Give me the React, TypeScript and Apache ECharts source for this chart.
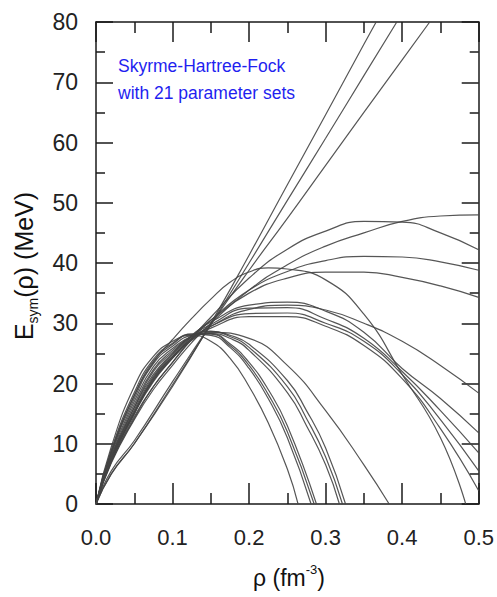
import React, { useEffect, useRef } from 'react';
import * as echarts from 'echarts';

// ---- axis settings ----
const xMin = 0;
const xMax = 0.5;
const xStep = 0.1;
const yMin = 0;
const yMax = 80;
const yStep = 10;

// ---- curves: [rho (fm^-3), Esym (MeV)] ----
// three nearly straight, steep curves
const curveA1 = [[0, 0], [0.02, 5], [0.05, 10], [0.1, 19.5], [0.15, 30], [0.2, 41.3], [0.25, 53], [0.3, 64.6], [0.35, 76.3], [0.366, 80]];
const curveA2 = [[0, 0], [0.02, 5], [0.05, 10], [0.1, 19.8], [0.15, 29.8], [0.2, 40], [0.25, 50.4], [0.3, 60.7], [0.35, 71.1], [0.393, 80]];
const curveA3 = [[0, 0], [0.02, 5.5], [0.05, 10.5], [0.1, 20.3], [0.15, 29.8], [0.2, 38.8], [0.25, 47.4], [0.3, 56.2], [0.35, 65], [0.4, 73.7], [0.436, 80]];
// high curves that stay above 30 MeV at 0.5
const curveB1 = [[0, 0], [0.02, 6.8], [0.05, 14], [0.075, 19], [0.1, 23], [0.125, 26.8], [0.15, 30], [0.2, 35.5], [0.25, 39.7], [0.3, 42.8], [0.35, 45], [0.4, 46.9], [0.45, 47.8], [0.5, 48]];
const curveB2 = [[0, 0], [0.02, 7], [0.05, 14.5], [0.075, 19.5], [0.1, 23.5], [0.125, 27.5], [0.15, 31], [0.2, 37.5], [0.25, 42.3], [0.3, 45.3], [0.35, 46.9], [0.4, 46.8], [0.45, 45], [0.5, 42.2]];
const curveB3 = [[0, 0], [0.02, 7], [0.05, 14.2], [0.075, 19.5], [0.1, 23.5], [0.125, 27.3], [0.15, 30.5], [0.2, 35.5], [0.25, 38.6], [0.3, 40.4], [0.35, 41.1], [0.4, 41], [0.45, 40.2], [0.5, 38.8]];
const curveB4 = [[0, 0], [0.02, 7.3], [0.05, 15], [0.075, 20.3], [0.1, 24.2], [0.125, 27.8], [0.15, 30.5], [0.2, 35], [0.25, 37.5], [0.3, 38.5], [0.35, 38.5], [0.4, 37.6], [0.45, 36.2], [0.5, 34.3]];
// curve peaking near 39 MeV
const curveC1 = [[0, 0], [0.02, 8.5], [0.05, 18], [0.075, 23.5], [0.1, 27.3], [0.125, 30.8], [0.15, 34], [0.175, 36.8], [0.2, 38.5], [0.225, 39.2], [0.25, 39], [0.3, 37.2], [0.35, 31.5], [0.4, 21.5], [0.45, 11], [0.483, 0]];
// middle curves peaking near 31-33 MeV
const curveM1 = [[0, 0], [0.02, 7.2], [0.05, 15], [0.075, 20.5], [0.1, 24.2], [0.125, 27.3], [0.15, 29.5], [0.2, 32.3], [0.25, 33], [0.3, 32.2], [0.35, 30], [0.4, 27], [0.45, 23], [0.5, 18.4]];
const curveM2 = [[0, 0], [0.02, 7.8], [0.05, 16], [0.075, 21.5], [0.1, 25], [0.125, 28], [0.15, 30.2], [0.2, 33], [0.25, 33.5], [0.3, 32], [0.35, 28.5], [0.4, 22.5], [0.45, 17.5], [0.5, 11.8]];
const curveM3 = [[0, 0], [0.02, 7.6], [0.05, 15.6], [0.075, 21.2], [0.1, 24.8], [0.125, 27.8], [0.15, 29.8], [0.2, 32.5], [0.25, 32.6], [0.3, 30.7], [0.35, 27.5], [0.4, 22], [0.45, 15.5], [0.5, 8.5]];
const curveM4 = [[0, 0], [0.02, 7.5], [0.05, 15.3], [0.075, 20.8], [0.1, 24.5], [0.125, 27.5], [0.15, 29.5], [0.2, 31.6], [0.25, 31.7], [0.3, 30], [0.35, 27], [0.4, 21.5], [0.45, 14], [0.5, 5.5]];
const curveM5 = [[0, 0], [0.02, 7.4], [0.05, 15.2], [0.075, 20.6], [0.1, 24.3], [0.125, 27.3], [0.15, 29.2], [0.2, 31.1], [0.25, 31.1], [0.3, 29.5], [0.35, 26.3], [0.4, 20.8], [0.45, 12.5], [0.5, 2.2]];
// curves that fall to zero before 0.4
const curveD1 = [[0, 0], [0.02, 9.5], [0.05, 19.5], [0.075, 24.5], [0.1, 27], [0.125, 28], [0.15, 27], [0.175, 24.2], [0.2, 19.5], [0.225, 13.5], [0.25, 5.8], [0.264, 0]];
const curveD2 = [[0, 0], [0.02, 9], [0.05, 18.5], [0.075, 24], [0.1, 26.7], [0.125, 28.2], [0.15, 28], [0.175, 26], [0.2, 22.5], [0.225, 17.5], [0.25, 11], [0.281, 0]];
const curveD3 = [[0, 0], [0.02, 8.8], [0.05, 18], [0.075, 23.7], [0.1, 26.5], [0.125, 28.2], [0.15, 28.2], [0.175, 26.3], [0.2, 23], [0.225, 18.2], [0.25, 12], [0.285, 0]];
const curveD4 = [[0, 0], [0.02, 8.5], [0.05, 17.5], [0.075, 23.3], [0.1, 26.2], [0.125, 28], [0.15, 28.3], [0.175, 26.6], [0.2, 23.5], [0.225, 19], [0.25, 13], [0.288, 0]];
const curveD5 = [[0, 0], [0.02, 8.3], [0.05, 17], [0.075, 22.8], [0.1, 25.8], [0.125, 27.8], [0.15, 28.3], [0.175, 27.5], [0.2, 25.5], [0.25, 18.5], [0.275, 13], [0.3, 6.5], [0.318, 0]];
const curveD6 = [[0, 0], [0.02, 8], [0.05, 16.5], [0.075, 22.3], [0.1, 25.5], [0.125, 27.8], [0.15, 28.6], [0.175, 27.8], [0.2, 26], [0.25, 19.5], [0.275, 14.2], [0.3, 7.8], [0.322, 0]];
const curveD7 = [[0, 0], [0.02, 7.8], [0.05, 16], [0.075, 22], [0.1, 25.2], [0.125, 27.8], [0.15, 28.7], [0.175, 28], [0.2, 26.5], [0.25, 20.5], [0.275, 15.5], [0.3, 9.3], [0.326, 0]];
const curveD8 = [[0, 0], [0.02, 7.3], [0.05, 15], [0.075, 21], [0.1, 24.5], [0.125, 27.2], [0.15, 28.5], [0.2, 27.5], [0.25, 23], [0.3, 15.5], [0.35, 6.5], [0.383, 0]];

const curves = [
  curveA1, curveA2, curveA3,
  curveB1, curveB2, curveB3, curveB4,
  curveC1,
  curveM1, curveM2, curveM3, curveM4, curveM5,
  curveD1, curveD2, curveD3, curveD4, curveD5, curveD6, curveD7, curveD8,
];

const noteLines = ['Skyrme-Hartree-Fock', 'with 21 parameter sets'];

const FONT = '"Liberation Sans", Arial, Helvetica, sans-serif';
const AXIS_COLOR = '#1a1a1a';

export default function App() {
  const ref = useRef<HTMLDivElement>(null);

  useEffect(() => {
    if (!ref.current) return;
    const chart = echarts.init(ref.current, null, { renderer: 'svg' });

    const tickLine = { color: AXIS_COLOR, width: 1.5 };
    const baseX = {
      type: 'value' as const,
      min: xMin,
      max: xMax,
      interval: xStep,
      splitLine: { show: false },
      axisLine: { show: true, onZero: false, lineStyle: { color: AXIS_COLOR, width: 1.5 } },
    };
    const baseY = {
      type: 'value' as const,
      min: yMin,
      max: yMax,
      interval: yStep,
      splitLine: { show: false },
      axisLine: { show: true, onZero: false, lineStyle: { color: AXIS_COLOR, width: 1.5 } },
    };

    chart.setOption({
      animation: false,
      backgroundColor: '#ffffff',
      grid: { left: 96, right: 15, top: 22, bottom: 93, containLabel: false },
      xAxis: [
        {
          ...baseX,
          position: 'bottom',
          axisTick: { show: true, inside: true, length: 21, lineStyle: tickLine },
          minorTick: { show: true, splitNumber: 2, length: 11, lineStyle: tickLine },
          axisLabel: {
            show: true,
            margin: 22,
            fontSize: 22,
            fontFamily: FONT,
            color: '#222',
            formatter: (v: number) => v.toFixed(1),
          },
        },
        {
          ...baseX,
          position: 'top',
          axisTick: { show: true, inside: true, length: 20, lineStyle: tickLine },
          minorTick: { show: true, splitNumber: 2, length: 11, lineStyle: tickLine },
          axisLabel: { show: false },
        },
      ],
      yAxis: [
        {
          ...baseY,
          position: 'left',
          axisTick: { show: true, inside: true, length: 17, lineStyle: tickLine },
          minorTick: { show: true, splitNumber: 2, length: 9, lineStyle: tickLine },
          axisLabel: {
            show: true,
            margin: 18,
            fontSize: 23,
            fontFamily: FONT,
            color: '#222',
            formatter: (v: number) => String(v),
          },
        },
        {
          ...baseY,
          position: 'right',
          axisTick: { show: true, inside: true, length: 17, lineStyle: tickLine },
          minorTick: { show: true, splitNumber: 2, length: 9, lineStyle: tickLine },
          axisLabel: { show: false },
        },
      ],
      series: curves.map((c, i) => ({
        type: 'line',
        name: 'set ' + (i + 1),
        xAxisIndex: 0,
        yAxisIndex: 0,
        data: c,
        showSymbol: false,
        symbol: 'none',
        smooth: 0.5,
        clip: true,
        lineStyle: { color: '#444444', width: 1.2, opacity: 0.9 },
        silent: true,
      })),
      graphic: [
        {
          type: 'text',
          x: 118,
          y: 65.5,
          style: {
            text: noteLines[0],
            fill: '#1f1ff0',
            fontSize: 17.5,
            fontFamily: FONT,
            align: 'left',
            verticalAlign: 'middle',
          },
        },
        {
          type: 'text',
          x: 118,
          y: 92.5,
          style: {
            text: noteLines[1],
            fill: '#1f1ff0',
            fontSize: 17.5,
            fontFamily: FONT,
            align: 'left',
            verticalAlign: 'middle',
          },
        },
        {
          type: 'text',
          x: 24,
          y: 266,
          rotation: Math.PI / 2,
          style: {
            text: '{a|E}{b|sym}{a|(ρ) (MeV)}',
            align: 'center',
            verticalAlign: 'middle',
            fill: '#111',
            rich: {
              a: { fontSize: 25, fontFamily: FONT, fill: '#111', lineHeight: 32, verticalAlign: 'middle' },
              b: { fontSize: 14, fontFamily: FONT, fill: '#111', lineHeight: 14, verticalAlign: 'bottom' },
            },
          },
        },
        {
          type: 'text',
          x: 289,
          y: 578,
          style: {
            text: '{a|ρ (fm}{s|-3}{a|)}',
            align: 'center',
            verticalAlign: 'middle',
            fill: '#111',
            rich: {
              a: { fontSize: 23, fontFamily: FONT, fill: '#111', lineHeight: 30, verticalAlign: 'middle' },
              s: { fontSize: 13, fontFamily: FONT, fill: '#111', lineHeight: 14, verticalAlign: 'top' },
            },
          },
        },
      ],
    });

    return () => {
      chart.dispose();
    };
  }, []);

  return (
    <div
      ref={ref}
      style={{ position: 'absolute', left: 0, top: 0, width: 497, height: 597, background: '#fff' }}
    />
  );
}
